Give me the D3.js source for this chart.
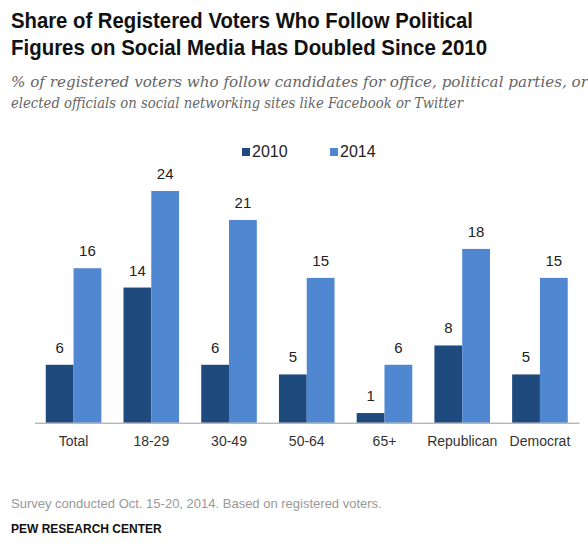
<!DOCTYPE html>
<html>
<head>
<meta charset="utf-8">
<script src="https://cdn.jsdelivr.net/npm/d3@7/dist/d3.min.js"></script>
<style>
  body { margin: 0; background: #fff; }
  svg text { font-family: "Liberation Sans", Arial, sans-serif; }
</style>
</head>
<body>
<script>
// data
var categories = ["Total", "18-29", "30-49", "50-64", "65+", "Republican", "Democrat"];
var years = ["2010", "2014"];
var values2010 = [6, 14, 6, 5, 1, 8, 5];
var values2014 = [16, 24, 21, 15, 6, 18, 15];
var colors = ["#1f4a7e", "#4f87d0"];

var width = 588, height = 551;

var svg = d3.select("body").append("svg")
  .attr("width", width)
  .attr("height", height);

// title
var title = svg.append("text")
  .attr("font-size", 22.5)
  .attr("font-weight", "bold")
  .attr("fill", "#111");
title.append("tspan").attr("x", 11).attr("y", 28)
  .attr("textLength", 462).attr("lengthAdjust", "spacingAndGlyphs")
  .text("Share of Registered Voters Who Follow Political");
title.append("tspan").attr("x", 11).attr("y", 55)
  .attr("textLength", 476).attr("lengthAdjust", "spacingAndGlyphs")
  .text("Figures on Social Media Has Doubled Since 2010");

// subtitle
var sub = svg.append("text")
  .attr("font-size", 15)
  .attr("font-style", "italic")
  .attr("fill", "#666")
  .style("font-family", "'DejaVu Serif', Georgia, serif");
sub.append("tspan").attr("x", 11).attr("y", 87)
  .attr("textLength", 577).attr("lengthAdjust", "spacingAndGlyphs")
  .text("% of registered voters who follow candidates for office, political parties, or");
sub.append("tspan").attr("x", 11).attr("y", 108)
  .attr("textLength", 452).attr("lengthAdjust", "spacingAndGlyphs")
  .text("elected officials on social networking sites like Facebook or Twitter");

// scales
var x0 = d3.scaleBand()
  .domain(categories)
  .range([34.5, 579])
  .paddingInner(0.285)
  .paddingOuter(0.145);

var x1 = d3.scaleBand()
  .domain(years)
  .range([0, x0.bandwidth()]);

var y = d3.scaleLinear()
  .domain([0, 24])
  .range([422.7, 191]);

var rows = categories.map(function(c, i) {
  return { cat: c, vals: [values2010[i], values2014[i]] };
});

var groups = svg.selectAll("g.grp")
  .data(rows)
  .enter().append("g")
  .attr("class", "grp")
  .attr("transform", function(d) { return "translate(" + x0(d.cat) + ",0)"; });

groups.selectAll("rect")
  .data(function(d) { return d.vals.map(function(v, j) { return { yr: years[j], v: v, j: j }; }); })
  .enter().append("rect")
  .attr("x", function(d) { return x1(d.yr); })
  .attr("y", function(d) { return y(d.v); })
  .attr("width", x1.bandwidth())
  .attr("height", function(d) { return y(0) - y(d.v); })
  .attr("fill", function(d) { return colors[d.j]; });

groups.selectAll("text.val")
  .data(function(d) { return d.vals.map(function(v, j) { return { yr: years[j], v: v }; }); })
  .enter().append("text")
  .attr("class", "val")
  .attr("x", function(d) { return x1(d.yr) + x1.bandwidth() / 2; })
  .attr("y", function(d) { return y(d.v) - 12; })
  .attr("text-anchor", "middle")
  .attr("font-size", 15)
  .attr("fill", "#222")
  .text(function(d) { return d.v; });

// x axis
var xAxis = d3.axisBottom(x0).tickSize(0).tickPadding(13);
var axisG = svg.append("g")
  .attr("transform", "translate(0," + y(0) + ")")
  .call(xAxis);
axisG.select(".domain").attr("stroke", "#999").attr("stroke-width", 1);
axisG.selectAll("text")
  .attr("font-size", 14)
  .attr("fill", "#333")
  .style("font-family", "'Liberation Sans', Arial, sans-serif");

// legend
var legendX = [242, 330];
var legend = svg.selectAll("g.leg")
  .data(years)
  .enter().append("g")
  .attr("class", "leg")
  .attr("transform", function(d, i) { return "translate(" + legendX[i] + ",146)"; });
legend.append("rect")
  .attr("x", 0).attr("y", 2)
  .attr("width", 8).attr("height", 8)
  .attr("fill", function(d, i) { return colors[i]; });
legend.append("text")
  .attr("x", 10).attr("y", 11)
  .attr("font-size", 16)
  .attr("fill", "#222")
  .text(function(d) { return d; });

// footer
svg.append("text")
  .attr("x", 11).attr("y", 508)
  .attr("font-size", 13)
  .attr("fill", "#999")
  .text("Survey conducted Oct. 15-20, 2014. Based on registered voters.");
svg.append("text")
  .attr("x", 11).attr("y", 533)
  .attr("font-size", 12)
  .attr("font-weight", "bold")
  .attr("fill", "#111")
  .text("PEW RESEARCH CENTER");
</script>
</body>
</html>
